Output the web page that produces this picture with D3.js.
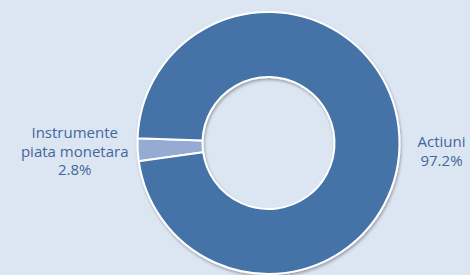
<!DOCTYPE html>
<html>
<head>
<meta charset="utf-8">
<script src="https://cdn.jsdelivr.net/npm/d3@7"></script>
<style>
  body { margin: 0; background: #dce6f2; }
  .chart__label { font-family: "Open Sans", sans-serif; font-size: 15px; fill: #41679b; }
</style>
</head>
<body>
<svg class="chart"></svg>
<script>
const categories = ["Instrumente piata monetara", "Actiuni"];
const labelLines = [["Instrumente", "piata monetara"], ["Actiuni"]];
const values = [2.8, 97.2];
const colors = ["#95abd3", "#4472a7"];

const width = 470, height = 275;
const cx = 268.5, cy = 143, outerR = 131, innerR = 66;

const svg = d3.select(".chart").attr("width", width).attr("height", height);

// soft shadow under the ring
const defs = svg.append("defs");
const f = defs.append("filter").attr("id", "shadow").attr("x", "-20%").attr("y", "-20%").attr("width", "140%").attr("height", "140%");
f.append("feDropShadow").attr("dx", 1).attr("dy", 2).attr("stdDeviation", 1.5).attr("flood-color", "#000").attr("flood-opacity", 0.3);

const pie = d3.pie().sort(null).value(d => d)
    .startAngle(262 * Math.PI / 180)
    .endAngle(262 * Math.PI / 180 + 2 * Math.PI);
const arcs = pie(values);

const arc = d3.arc().innerRadius(innerR).outerRadius(outerR);

const g = svg.append("g").attr("transform", `translate(${cx},${cy})`);

g.append("g").attr("filter", "url(#shadow)")
  .selectAll("path")
  .data(arcs)
  .join("path")
    .attr("class", "chart__slice")
    .attr("d", arc)
    .attr("fill", (d, i) => colors[i])
    .attr("stroke", "#fff")
    .attr("stroke-width", 2)
    .attr("stroke-linejoin", "round");

// labels outside the ring, left or right depending on slice angle
const lineH = 18.5;
arcs.forEach((d, i) => {
  const mid = (d.startAngle + d.endAngle) / 2;
  const side = Math.sin(mid) < 0 ? -1 : 1;
  const lines = labelLines[i].concat([d3.format(".1f")(values[i]) + "%"]);
  const t = g.append("text").attr("class", "chart__label").attr("text-anchor", "middle");
  lines.forEach((s, k) => {
    t.append("tspan").attr("x", 0).attr("y", (k - (lines.length - 1) / 2) * lineH).text(s);
  });
  const bb = t.node().getBBox();
  const gap = side < 0 ? 9 : 18;
  const x = side * (outerR + gap + bb.width / 2);
  const y = 7.5 - (bb.y + bb.height / 2);
  t.attr("transform", `translate(${x},${y})`);
});
</script>
</body>
</html>
